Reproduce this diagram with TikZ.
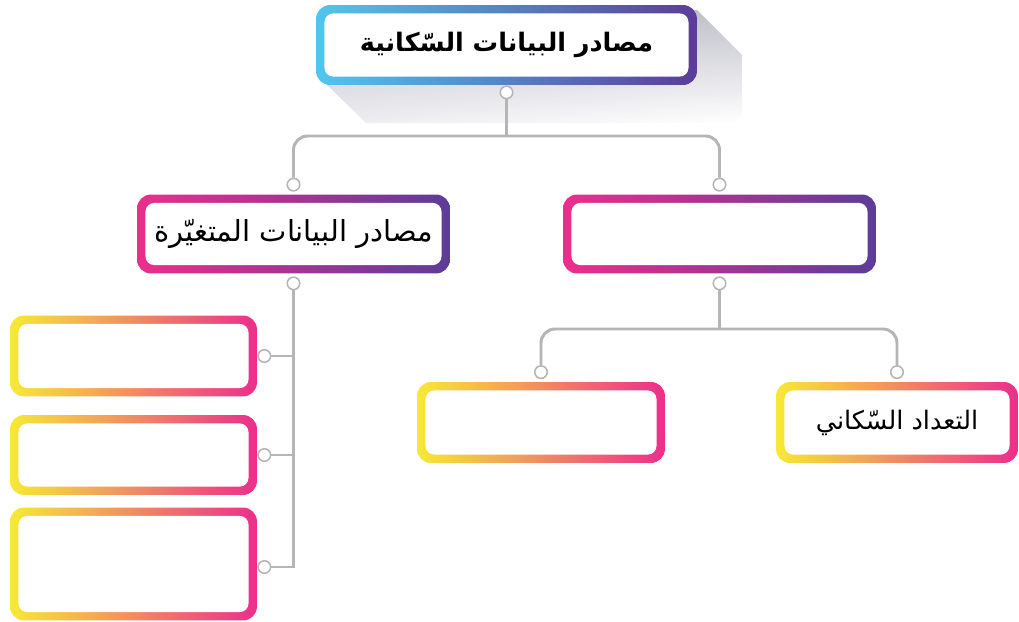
\documentclass[tikz,border=0pt]{standalone}
\usepackage{fontspec}
\newfontfamily\arabicfont[Script=Arabic]{DejaVu Sans}
\TeXXeTstate=1
\usepackage{xcolor}
\definecolor{Sky}{HTML}{50C6EE}
\definecolor{Grape}{HTML}{5C3C98}
\definecolor{Rose}{HTML}{EC2E8C}
\definecolor{Lemon}{HTML}{F7E936}
\definecolor{Wire}{HTML}{B5B5B5}
\definecolor{Shade}{HTML}{A8A8B6}
\usepackage{tikz}
\usetikzlibrary{positioning,shadings}

\begin{document}
\begin{tikzpicture}[
    x=0.02cm, y=-0.02cm,
    rim/.style={rounded corners=8pt, inner sep=0pt,
      path picture={\fill[white,rounded corners=5pt]
        ([shift={(4.8pt,4.8pt)}]path picture bounding box.south west) rectangle
        ([shift={(-4.8pt,-4.8pt)}]path picture bounding box.north east);}},
    topbox/.style={rim, left color=Sky, right color=Grape,
      minimum width=7.62cm, minimum height=1.6cm,
      font=\arabicfont\bfseries\fontsize{14.5}{18}\selectfont},
    midbox/.style={rim, left color=Rose, right color=Grape,
      minimum width=6.26cm, minimum height=1.58cm,
      font=\arabicfont\fontsize{16.5}{20}\selectfont},
    leafbox/.style={rim, left color=Lemon, right color=Rose,
      minimum width=4.94cm, minimum height=1.62cm,
      font=\arabicfont\fontsize{14.5}{18}\selectfont},
    knob/.style={circle, draw=Wire, fill=white, line width=0.9pt,
      inner sep=0pt, minimum size=2.5mm},
    wire/.style={draw=Wire, line width=1.7pt},
  ]
  \useasboundingbox (0,0) rectangle (1019,622);

  % ---------- shadow of the title box ----------
  \shade[upper left=Shade!90, upper right=Shade!85, lower left=Shade!25,
         lower right=white, opacity=0.85]
    (330,18) -- (697,10) -- (742,55) -- (742,114) -- (734,123)
    -- (366,123) -- (318,76) -- cycle;

  % ---------- boxes ----------
  \node[topbox] (top) at (506.5,45) {\beginR مصادر البيانات السّكانية\endR};

  \node[midbox] (vars)  at (293.5,234) {\beginR مصادر البيانات المتغيّرة\endR};
  \node[midbox] (fixed) at (719.5,234) {};

  \node[leafbox] (v1) at (133.5,356) {};
  \node[leafbox, minimum height=1.6cm] (v2) at (133.5,455) {};
  \node[leafbox, minimum height=2.26cm] (v3) at (133.5,564) {};

  \node[leafbox, minimum width=4.96cm] (f1) at (541,422.5) {};
  \node[leafbox, minimum width=4.84cm] (f2) at (897,422.5) {\beginR التعداد السّكاني\endR};

  % ---------- knobs ----------
  \node[knob, anchor=north] (k0) at (top.south) {};
  \node[knob, anchor=south] (kv) at ([yshift=0.5mm]vars.north) {};
  \node[knob, anchor=south] (kf) at ([yshift=0.5mm]fixed.north) {};
  \node[knob, anchor=north] (kvb) at ([yshift=-0.5mm]vars.south) {};
  \node[knob, anchor=north] (kfb) at ([yshift=-0.5mm]fixed.south) {};
  \node[knob, anchor=west] (k1) at (v1.east) {};
  \node[knob, anchor=west] (k2) at (v2.east) {};
  \node[knob, anchor=west] (k3) at ([yshift=-0.6mm]v3.east) {};
  \node[knob, anchor=south] (kf1) at ([yshift=0.5mm]f1.north) {};
  \node[knob, anchor=south] (kf2) at ([yshift=0.5mm]f2.north) {};

  % ---------- wires ----------
  \coordinate (j0) at (k0 |- 0,136);
  \coordinate (j1) at (kfb |- 0,329);
  \draw[wire] (k0.south) -- (j0);
  \draw[wire, rounded corners=0.28cm] (kv.north) |- (j0) -| (kf.north);
  \draw[wire] (kfb.south) -- (j1);
  \draw[wire, rounded corners=0.28cm] (kf1.north) |- (j1) -| (kf2.north);

  \draw[wire] (kvb.south) |- (k3.east);
  \draw[wire] (k1.east) -- (k1 -| kvb);
  \draw[wire] (k2.east) -- (k2 -| kvb);
\end{tikzpicture}
\end{document}
